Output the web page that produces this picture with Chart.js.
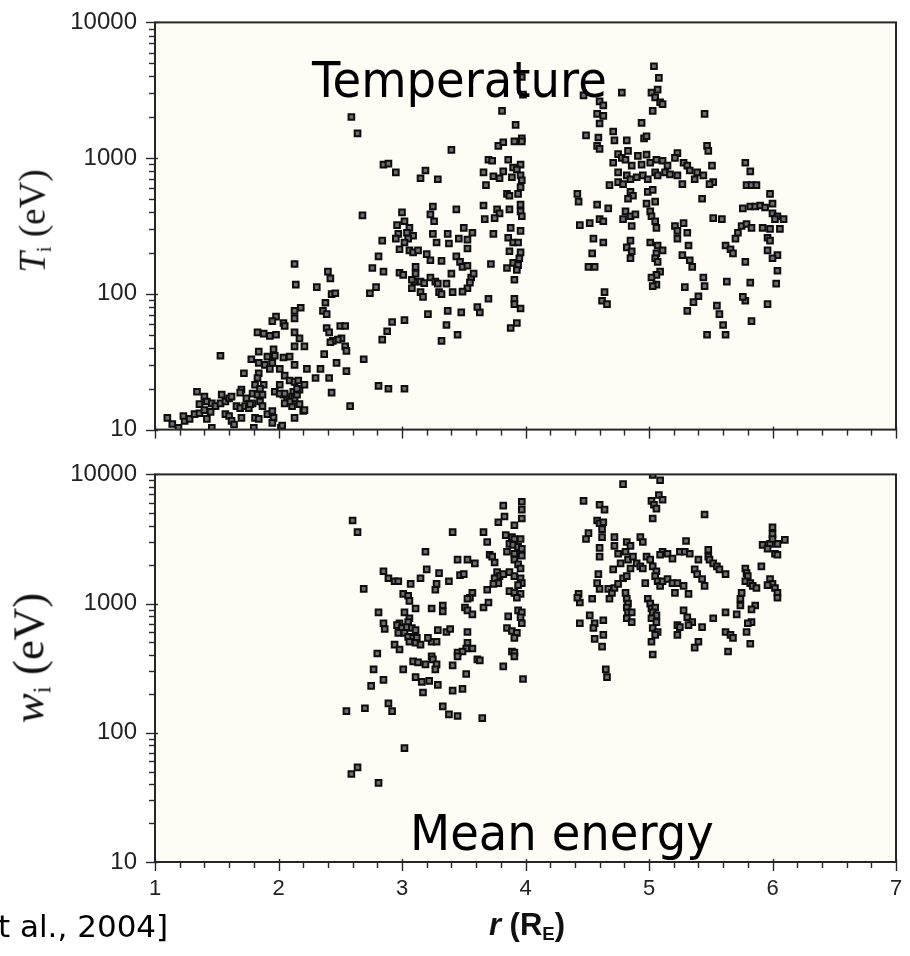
<!DOCTYPE html>
<html>
<head>
<meta charset="utf-8">
<script src="https://cdn.jsdelivr.net/npm/chart.js@4.4.1/dist/chart.umd.min.js"></script>
<style>
  html, body { margin: 0; padding: 0; background: #fff; }
  body { width: 910px; height: 956px; position: relative; overflow: hidden; font-family: "Liberation Sans", Arial, sans-serif; }
  canvas { position: absolute; left: 0; }
  #chart-temp { top: 0; }
  #chart-energy { top: 452px; }
  .txt { position: absolute; white-space: nowrap; color: #000; line-height: 1; }
  .big { font-family: "DejaVu Sans", Verdana, sans-serif; font-size: 49px; transform: scaleX(0.95); transform-origin: left top; }
  .ytitle { position: absolute; white-space: nowrap; line-height: 1; color: #111;
            font-family: "Liberation Serif", "Times New Roman", serif;
            transform: translate(-50%, -50%) rotate(-90deg); }
  .ytitle sub { font-size: 0.55em; vertical-align: -0.3em; }
  .xtitle { position: absolute; white-space: nowrap; line-height: 1; transform: translateX(-50%);
            font-family: "Liberation Sans", Arial, sans-serif; font-weight: bold; font-size: 31px; color: #111; }
  .xtitle sub { font-size: 0.6em; vertical-align: -0.25em; }
</style>
</head>
<body>
<canvas id="chart-temp" width="910" height="452"></canvas>
<canvas id="chart-energy" width="910" height="504"></canvas>

<div class="txt big" style="left:312px; top:56px;">Temperature</div>
<div class="txt big" style="left:410px; top:809px;">Mean energy</div>
<div class="ytitle" style="left:34px; top:221px; font-size:37px;"><i>T</i><sub>i</sub> (eV)</div>
<div class="ytitle" style="left:31px; top:658px; font-size:45px;"><i>w</i><sub>i</sub> (eV)</div>
<div class="xtitle" style="left:527px; top:909px;"><i>r</i> (R<sub>E</sub>)</div>
<div class="txt" style="left:-2px; top:911px; font-family:'DejaVu Sans', Verdana, sans-serif; font-size:31px;">t al., 2004]</div>

<script>
// ============================================================
// Data: [r (R_E), value (eV)]
// ============================================================
const tempPoints = [
  [1.10,12.2],[1.14,11.0],[1.19,10.3],[1.24,11.6],[1.28,12.0],[1.23,12.6],[1.34,19],[1.40,17.5],
  [1.42,16.1],[1.36,15.4],[1.46,15.6],[1.49,14.9],[1.53,15.6],[1.54,18.1],[1.57,16.1],[1.60,17],
  [1.62,17.5],[1.32,13.0],[1.36,13.2],[1.40,13.9],[1.45,13.5],[1.42,12.0],[1.57,13.0],[1.60,12.6],
  [1.62,11.6],[1.64,10.9],[1.66,14.9],[1.69,14.4],[1.73,14.9],[1.76,14.4],[1.79,15.6],[1.70,12.2],
  [1.81,12.2],[1.84,12.0],[1.91,13.0],[1.95,13.7],[1.96,12.2],[1.95,11.2],[1.80,10.3],[1.46,10.3],
  [2.02,10.3],[1.74,17],[1.77,15.4],[1.85,16.1],[1.87,14.9],[2.03,10.7],[2.04,18.1],[2.07,16.7],
  [2.11,14.9],[2.13,12.2],[2.20,13.7],[2.17,15.4],[2.12,19],[1.70,19.7],[1.69,18.7],[1.79,18.4],
  [1.83,18.1],[1.87,18.1],[1.97,19],[2.01,18.4],[2.05,18.4],[2.11,17.5],[2.13,17],[2.15,18.1],
  [2.17,19.7],[2.09,16.1],[2.05,15.6],[2.21,13.9],[1.81,21.4],[1.88,21.4],[1.85,20],[2.01,21.4],
  [2.21,21.4],[2.05,25],[2.09,23],[2.13,22.5],[2.16,23],[2.15,20],[1.84,26],[1.83,24],
  [1.72,26],[1.78,33],[1.84,31],[1.89,30],[1.93,28],[2.01,28],[1.84,37.5],[1.91,34.5],
  [1.96,39],[1.97,35],[1.95,31],[2.04,34],[2.09,34.5],[2.13,30],[2.23,28],[1.53,35],
  [1.83,52],[1.88,51],[1.93,49],[1.98,50],[1.98,68],[1.95,63],[2.04,61],[2.05,58],
  [2.13,52],[2.17,47],[2.21,41],[2.13,41],[2.18,79],[2.13,75],[2.13,66],[2.13,166],
  [2.14,117],[2.31,112],[2.40,146],[2.42,130],[2.43,99.5],[2.46,101],[2.38,86],[2.36,75],
  [2.39,71],[2.50,58],[2.54,58],[2.51,47],[2.48,46],[2.44,45],[2.39,56],[2.41,52],
  [2.42,44],[2.54,41],[2.55,38],[2.37,36],[2.47,31],[2.55,27],[2.34,28],[2.30,24],
  [2.41,24],[2.43,18.7],[2.58,14.9],[2.59,2010],[2.64,1520],[2.69,33],[2.81,21],[2.89,20],
  [3.02,20],[2.84,46],[2.88,53],[2.92,62],[3.02,64],[2.68,379],[2.84,247],[2.81,189],
  [2.76,155],[2.85,146],[2.79,112],[2.74,101],[2.98,213],[2.98,143],[3.01,138],[3.11,158],
  [3.11,141],[3.10,123],[3.15,123],[3.08,110],[3.15,103],[3.17,95],[2.85,896],[2.89,910],
  [2.95,785],[3.19,811],[3.15,711],[3.29,699],[3.40,1150],[3.00,398],[3.02,343],[3.06,306],
  [2.96,321],[2.97,277],[3.04,282],[3.09,268],[3.05,255],[2.95,255],[3.02,239],[3.06,209],
  [3.09,202],[3.13,209],[3.25,440],[3.23,385],[3.26,343],[3.44,419],[3.50,306],[3.57,282],
  [3.46,255],[3.53,251],[3.53,216],[3.25,277],[3.28,239],[3.37,277],[3.38,235],[3.20,196],
  [3.23,177],[3.32,175],[3.44,189],[3.47,172],[3.49,158],[3.53,161],[3.08,127],[3.18,120],
  [3.23,132],[3.27,123],[3.29,119],[3.36,119],[3.40,141],[3.56,132],[3.58,141],[3.55,121],
  [3.53,110],[3.30,103],[3.32,99.5],[3.41,103],[3.49,104],[3.21,71],[3.37,75],[3.48,73],
  [3.63,73],[3.61,80],[3.36,59],[3.45,50],[3.32,45],[3.88,56],[3.70,92],[3.91,92],
  [3.96,78],[3.81,2230],[3.92,1760],[3.97,1400],[3.97,1330],[3.91,1330],[3.78,1230],[3.82,1310],
  [3.97,3960],[3.98,2940],[3.70,973],[3.73,957],[3.86,973],[3.90,853],[3.96,896],[3.93,825],
  [3.66,785],[3.74,735],[3.79,711],[3.82,798],[3.89,723],[3.96,747],[3.97,687],[3.96,612],
  [3.68,633],[3.85,546],[3.87,528],[3.94,546],[3.66,448],[3.77,419],[3.79,392],[3.87,419],
  [3.96,455],[3.96,405],[3.97,373],[3.75,361],[3.67,355],[3.72,166],[3.85,155],[3.90,169],
  [3.94,163],[3.93,150],[3.95,183],[3.91,127],[3.87,206],[3.96,202],[3.86,259],[3.90,239],
  [3.94,239],[3.88,306],[3.96,291],[3.74,277],[3.91,84],[3.93,61],
  [4.42,546],[4.43,478],[4.44,321],[4.52,332],[4.60,355],[4.63,343],[4.55,255],[4.63,239],
  [4.54,199],[4.51,158],[4.56,158],[4.64,103],[4.62,89],[4.66,84],[4.58,455],[4.67,426],
  [4.47,2900],[4.60,2620],[4.63,2450],[4.58,2120],[4.63,2050],[4.60,1800],[4.49,1470],[4.59,1420],
  [4.71,1570],[4.72,1350],[4.82,1350],[4.96,1400],[4.98,1450],[4.58,1230],[4.60,1170],[4.78,3040],
  [4.94,1820],[5.04,4750],[5.08,3900],[5.07,3200],[5.02,3040],[5.05,2800],[5.09,2580],[5.11,2500],
  [5.03,2230],[5.45,2120],[4.75,1070],[4.83,1130],[4.78,1005],[4.71,925],[4.81,973],[4.91,1040],
  [4.98,1060],[4.86,881],[4.94,896],[5.01,925],[5.06,973],[5.11,957],[5.15,881],[5.23,1090],
  [5.21,1005],[5.28,925],[5.31,881],[5.47,1230],[5.48,1130],[5.51,881],[5.39,785],[5.44,747],
  [5.52,665],[5.49,644],[4.75,785],[4.82,747],[4.75,665],[4.68,633],[4.79,644],[4.85,699],
  [4.90,723],[4.95,747],[4.99,699],[5.05,785],[5.07,747],[5.13,785],[5.17,760],[5.23,747],
  [5.27,644],[5.33,811],[5.37,699],[4.85,564],[4.87,528],[4.83,502],[4.99,564],[5.03,583],
  [4.98,462],[5.05,478],[5.43,502],[4.81,405],[4.79,355],[4.85,373],[4.89,385],[4.86,316],
  [5.01,405],[5.02,373],[5.05,343],[5.06,306],[4.85,247],[4.82,220],[4.86,206],[4.85,183],
  [5.01,239],[5.07,227],[5.11,209],[5.06,199],[5.05,183],[5.07,172],[5.09,146],[5.06,138],
  [5.02,132],[5.06,117],[5.03,114],[5.21,316],[5.23,291],[5.28,332],[5.31,282],[5.23,255],
  [5.32,227],[5.27,193],[5.33,177],[5.35,158],[5.52,361],[5.59,355],[5.62,227],[5.66,213],
  [5.68,199],[5.70,255],[5.72,282],[5.75,316],[5.79,327],[5.83,306],[5.78,925],[5.82,798],
  [5.79,633],[5.83,633],[5.87,633],[5.76,426],[5.82,440],[5.86,440],[5.90,448],[5.98,546],
  [6.00,462],[5.94,433],[6.00,392],[6.04,373],[6.09,355],[6.02,355],[6.06,301],[5.98,301],
  [5.92,306],[5.96,259],[5.98,247],[5.96,209],[6.04,193],[6.00,183],[6.04,148],[6.03,119],
  [5.82,121],[5.78,172],[5.63,123],[5.96,84],[5.83,63],[5.78,89],[5.76,95],[5.44,132],
  [5.45,114],[5.29,112],[5.40,96],[5.36,87],[5.31,75],[5.55,82],[5.57,71],[5.60,59],
  [5.62,50],[5.47,50]
];

const energyPoints = [
  [3.97,6140],[3.97,5340],[3.97,4560],[3.82,5730],[3.83,4720],[3.78,4260],[3.91,4040],[3.84,3390],
  [2.60,4400],[2.64,3570],[3.41,3570],[3.66,3570],[3.69,3000],[3.89,3270],[3.91,3160],[3.96,3160],
  [3.87,2900],[3.90,2850],[3.94,2750],[3.97,2660],[3.85,2520],[3.91,2430],[3.97,2350],[3.71,2390],
  [3.73,2310],[3.75,2080],[3.91,2190],[3.94,2010],[3.96,1870],[3.19,2520],[3.45,2190],[3.53,2190],
  [3.59,2050],[3.20,1840],[3.30,1720],[3.15,1570],[3.07,1420],[3.47,1660],[3.50,1690],[3.38,1490],
  [2.85,1780],[2.89,1570],[2.94,1490],[2.97,1490],[3.77,1750],[3.79,1630],[3.82,1690],[3.75,1570],
  [3.78,1440],[3.74,1420],[3.87,1750],[3.91,1630],[3.96,1570],[3.97,1440],[3.94,1390],[3.87,1250],
  [3.91,1210],[3.96,1190],[3.93,1110],[3.69,1280],[3.57,1210],[3.55,1110],[3.53,1090],[3.28,1420],
  [3.27,1280],[2.69,1300],[3.01,1190],[3.05,1150],[3.06,1050],[3.11,917],[3.24,917],[3.33,966],
  [3.33,870],[3.51,933],[3.53,886],[3.57,826],[3.66,933],[3.70,1020],[2.81,855],[2.85,705],
  [2.86,636],[3.02,855],[3.06,770],[3.05,718],[3.86,797],[3.94,886],[3.97,855],[3.96,784],
  [3.97,705],[2.98,705],[2.96,681],[3.00,647],[3.04,658],[3.08,647],[3.11,624],[3.02,593],
  [3.05,553],[3.09,543],[3.12,543],[3.06,507],[3.11,498],[3.15,481],[2.97,593],[2.94,481],
  [2.98,441],[3.29,624],[3.36,603],[3.39,636],[3.24,507],[3.28,507],[3.21,543],[3.53,603],
  [3.53,498],[3.57,449],[3.52,449],[3.85,647],[3.89,614],[3.93,593],[3.91,543],[3.45,418],
  [3.49,426],[3.45,390],[3.61,370],[3.63,364],[3.89,426],[3.91,418],[3.91,390],[2.80,411],
  [2.77,310],[2.85,257],[2.75,231],[3.01,310],[3.09,357],[3.13,351],[3.19,339],[3.24,390],
  [3.25,370],[3.28,339],[3.27,310],[3.41,333],[3.52,285],[3.49,219],[3.41,212],[3.82,327],
  [3.98,261],[3.11,270],[3.16,248],[3.22,252],[3.29,235],[3.17,205],[2.89,169],[2.92,147],
  [2.55,147],[2.70,155],[3.33,160],[3.38,139],[3.45,135],[3.65,130],[3.02,76],[2.64,54],
  [2.59,48],[2.81,41],
  [5.03,9900],[5.09,9010],[4.79,8400],[5.08,6930],[5.11,6360],[5.02,6240],[5.04,5820],[5.06,5430],
  [5.03,4560],[4.47,6240],[4.60,5820],[4.64,5340],[4.58,4400],[4.60,4190],[4.63,4260],[4.62,3770],
  [5.45,4890],[4.51,3510],[4.49,3160],[4.62,3270],[4.72,3270],[4.72,2800],[4.75,2430],[4.60,2700],
  [4.60,2310],[4.82,3000],[4.85,2800],[4.81,2520],[4.93,3270],[4.95,3000],[5.30,3050],[5.25,2520],
  [5.29,2520],[5.33,2430],[5.11,2520],[5.15,2430],[5.19,2230],[5.09,2390],[5.48,2610],[5.48,2310],
  [5.49,2190],[5.52,2050],[5.55,1940],[5.57,1840],[5.62,1690],[5.40,2190],[5.37,1840],[5.39,1690],
  [5.43,1550],[5.45,1370],[6.00,3900],[6.00,3450],[5.98,2900],[5.92,2850],[5.96,2660],[6.04,2900],
  [6.10,3110],[6.02,2430],[6.04,2390],[6.00,3160],[5.91,1940],[5.78,1870],[5.79,1720],[5.80,1630],
  [5.78,1490],[5.82,1440],[5.84,1370],[5.87,1320],[5.75,1210],[5.74,1090],[5.98,1550],[6.00,1420],
  [6.02,1320],[6.04,1210],[6.04,1110],[5.96,1390],[5.86,966],[5.83,901],[5.83,718],[5.80,705],
  [5.79,603],[5.74,966],[5.71,826],[5.62,855],[5.62,603],[5.66,573],[5.68,543],[5.82,489],
  [5.64,426],[5.52,770],[5.43,658],[5.40,507],[5.37,456],[5.28,886],[5.31,784],[5.35,718],
  [5.32,681],[5.23,681],[5.25,658],[5.23,573],[4.59,1690],[4.58,1440],[4.60,1300],[4.67,1300],
  [4.68,1090],[4.70,1210],[4.72,1320],[4.75,1420],[4.71,1840],[4.79,1570],[4.82,1630],[4.77,2050],
  [4.83,2190],[4.87,2310],[4.90,2050],[4.93,1940],[4.98,2310],[5.01,2190],[5.03,1940],[5.06,1780],
  [4.95,1870],[4.85,1870],[5.05,1630],[5.07,1490],[5.09,1370],[5.11,1490],[5.15,1550],[4.97,1440],
  [5.19,1440],[5.23,1440],[5.21,1210],[5.32,1190],[5.28,1370],[4.81,1210],[4.82,1090],[4.83,1000],
  [4.82,933],[4.83,855],[4.86,855],[4.82,770],[4.86,718],[4.43,1190],[4.44,1020],[4.54,1090],
  [4.42,1110],[4.99,1090],[5.01,1000],[5.02,917],[5.05,933],[5.03,855],[5.06,811],[5.02,770],
  [5.06,718],[5.03,647],[5.07,603],[5.05,573],[5.02,507],[5.03,404],[4.52,811],[4.44,705],
  [4.56,705],[4.55,647],[4.63,743],[4.63,573],[4.56,534],[4.62,464],[4.65,310],[4.66,270]
];

// axis ticks
const xMajor = [1, 2, 3, 4, 5, 6, 7];
const xMinorStep = 0.2;
const yDecades = [10, 100, 1000, 10000];
const yMinorMult = [1, 2, 3, 4, 5, 6, 7, 8, 9];

// ============================================================
// Helpers
// ============================================================
const PLOT_BG = "#fdfdf5";
const INK = "#262626";
const isWhole = (v) => Math.abs(v - Math.round(v)) < 1e-6;

const xTicks = [];
for (let v = xMajor[0]; v <= xMajor[xMajor.length - 1] + 1e-9; v += xMinorStep) {
  xTicks.push(Math.round(v * 10) / 10);
}
const yTicks = [];
yDecades.slice(0, -1).forEach((d) => yMinorMult.forEach((m) => yTicks.push(m * d)));
yTicks.push(yDecades[yDecades.length - 1]);

// background, frame and major/minor tick marks
const frameTicks = {
  id: "frameTicks",
  beforeDatasetsDraw(chart) {
    const { ctx, chartArea: a } = chart;
    ctx.save();
    ctx.fillStyle = PLOT_BG;
    ctx.fillRect(a.left, a.top, a.right - a.left, a.bottom - a.top);
    ctx.restore();
  },
  afterDraw(chart) {
    const { ctx, chartArea: a, scales } = chart;
    ctx.save();
    ctx.strokeStyle = INK;
    ctx.lineWidth = 1.4;
    scales.x.ticks.forEach((t) => {
      const px = Math.round(scales.x.getPixelForValue(t.value)) + 0.5;
      const major = isWhole(t.value);
      ctx.beginPath();
      ctx.moveTo(px, a.bottom - (major ? 3 : 0));
      ctx.lineTo(px, a.bottom + (major ? 9 : 6));
      ctx.stroke();
    });
    scales.y.ticks.forEach((t) => {
      const py = Math.round(scales.y.getPixelForValue(t.value)) + 0.5;
      const major = yDecades.includes(t.value);
      ctx.beginPath();
      ctx.moveTo(a.left - (major ? 9 : 6), py);
      ctx.lineTo(a.left + (major ? 3 : 0), py);
      ctx.stroke();
    });
    ctx.lineWidth = 2;
    ctx.strokeRect(a.left, a.top, a.right - a.left, a.bottom - a.top);
    ctx.restore();
  },
};

function makeChart(id, points, padding, xAxisHeight, showXLabels) {
  return new Chart(document.getElementById(id), {
    type: "scatter",
    data: {
      datasets: [{
        data: points.map(([r, v]) => ({ x: r, y: v })),
        pointStyle: "rect",
        pointRadius: 4,
        pointHoverRadius: 4,
        pointBorderWidth: 2,
        borderColor: "#0d0d0d",
        backgroundColor: "#6e6e6e",
      }],
    },
    options: {
      responsive: false,
      animation: false,
      events: [],
      layout: { padding },
      plugins: { legend: { display: false }, tooltip: { enabled: false } },
      scales: {
        x: {
          type: "linear",
          min: 1,
          max: 7,
          afterBuildTicks: (s) => { s.ticks = xTicks.map((v) => ({ value: v })); },
          afterFit: (s) => { s.height = xAxisHeight; },
          grid: { drawOnChartArea: false, drawTicks: true, tickLength: 10, color: "transparent" },
          border: { display: false },
          ticks: {
            display: showXLabels,
            autoSkip: false,
            maxRotation: 0,
            padding: 4,
            color: "#222",
            font: { family: "'Liberation Sans', Arial, sans-serif", size: 22 },
            callback: (v) => (isWhole(v) ? String(Math.round(v)) : ""),
          },
        },
        y: {
          type: "logarithmic",
          min: 10,
          max: 10000,
          afterBuildTicks: (s) => { s.ticks = yTicks.map((v) => ({ value: v })); },
          afterFit: (s) => { s.width = 155; },
          grid: { drawOnChartArea: false, drawTicks: true, tickLength: 10, color: "transparent" },
          border: { display: false },
          ticks: {
            autoSkip: false,
            padding: 8,
            color: "#222",
            font: { family: "'Liberation Sans', Arial, sans-serif", size: 24 },
            callback: (v) => (yDecades.includes(v) ? String(v) : ""),
          },
        },
      },
    },
    plugins: [frameTicks],
  });
}

// ============================================================
// Init
// ============================================================
makeChart("chart-temp", tempPoints, { left: 0, right: 14, top: 21, bottom: 0 }, 13, false);
makeChart("chart-energy", energyPoints, { left: 0, right: 14, top: 14, bottom: 0 }, 94, true);
</script>
</body>
</html>
